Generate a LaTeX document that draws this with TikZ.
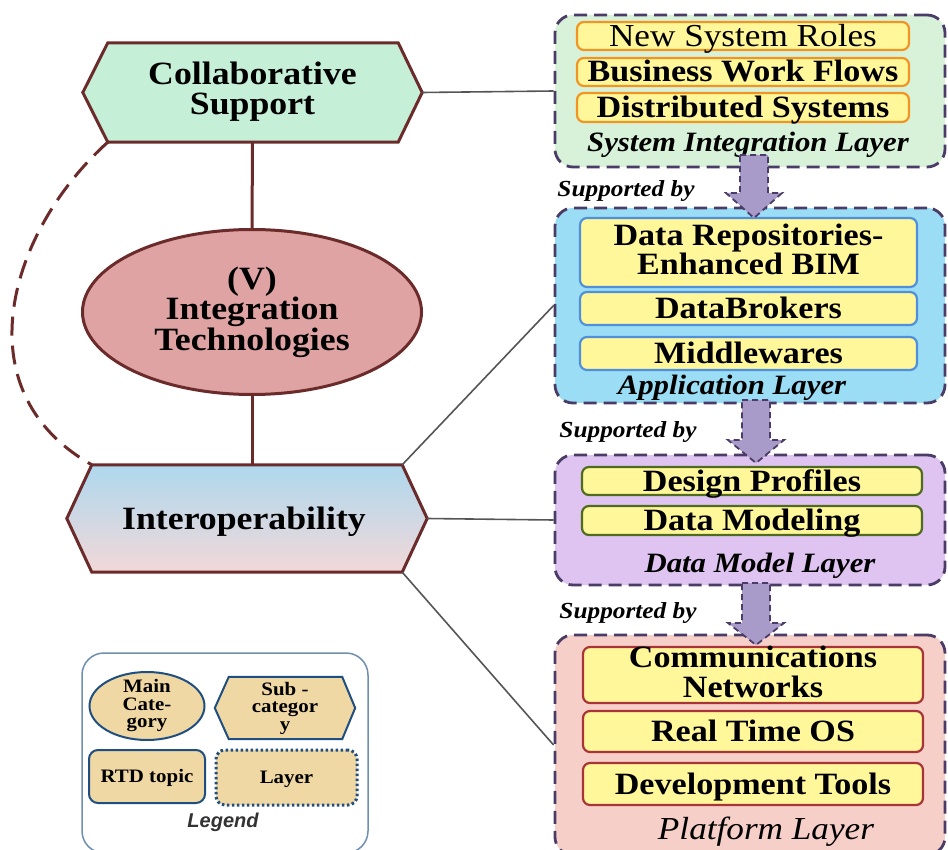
\documentclass[tikz,border=0pt]{standalone}
\usepackage{fontspec}
\setmainfont{Liberation Serif}[FakeStretch=1.1]
\newfontfamily\legfont{Liberation Sans}
\usetikzlibrary{shapes.geometric,calc}
\definecolor{maroon}{HTML}{6B2B2B}
\definecolor{collabfill}{HTML}{C6EFD8}
\definecolor{ellfill}{HTML}{E0A3A3}
\definecolor{intTop}{HTML}{AED8EE}
\definecolor{intMid}{HTML}{C6B4D6}
\definecolor{intBot}{HTML}{F2D8D8}
\definecolor{laycol}{HTML}{4A3C66}
\definecolor{Lonefill}{HTML}{D8F2D9}
\definecolor{Ltwofill}{HTML}{9ADDF5}
\definecolor{Lthreefill}{HTML}{DFC4F2}
\definecolor{Lfourfill}{HTML}{F5CFC8}
\definecolor{boxyellow}{HTML}{FFF79A}
\definecolor{Loneline}{HTML}{F29422}
\definecolor{Ltwoline}{HTML}{4F8FDB}
\definecolor{Lthreeline}{HTML}{4E6B1E}
\definecolor{Lfourline}{HTML}{A8343A}
\definecolor{arrowcol}{HTML}{A99BC9}
\definecolor{legfill}{HTML}{F0D8A5}
\definecolor{legline}{HTML}{1F4E80}
\definecolor{frameline}{HTML}{6F8FAE}
\definecolor{conncol}{HTML}{555555}
\newcommand\fbig{\fontsize{31}{29.5}\selectfont\bfseries}
\newcommand\fleft{\fontsize{32.5}{30.5}\selectfont\bfseries}
\newcommand\fbigreg{\fontsize{32}{30}\selectfont}
\newcommand\flay{\fontsize{28}{30}\selectfont\bfseries\itshape}
\newcommand\fplat{\fontsize{32}{30}\selectfont\itshape}
\newcommand\fsup{\fontsize{23}{25}\selectfont\bfseries\itshape}
\newcommand\fleg{\fontsize{19}{17.5}\selectfont\bfseries}
\begin{document}
\begin{tikzpicture}[x=1pt,y=-1pt,
  every node/.style={inner sep=0pt},
  hexshape/.style={draw=maroon, line width=3pt, line join=miter},
  layerbox/.style={draw=laycol, line width=2.8pt, dash pattern=on 13pt off 7pt, rounded corners=18pt, minimum width=390pt},
  ibox/.style={fill=boxyellow, line width=2.2pt, rounded corners=7pt},
  btext/.style={font=\fbig, text height=20pt, text depth=0pt},
  mtext/.style={font=\fbig, align=center},
  laytext/.style={font=\flay, text height=18pt, text depth=0pt},
  suptext/.style={font=\fsup, text height=15pt, text depth=0pt},
  bigarrow/.style={fill=arrowcol, draw=laycol, line width=1.8pt, dash pattern=on 6pt off 4pt},
  thinconn/.style={draw=conncol, line width=1.6pt},
  brownconn/.style={draw=maroon, line width=3pt},
  dashcurve/.style={draw=maroon, line width=3pt, dash pattern=on 19pt off 10pt},
  legitem/.style={fill=legfill, draw=legline, line width=2pt},
  legtext/.style={font=\fleg, align=center}
]
\useasboundingbox (0,0) rectangle (948,850);

% ---------------- Left side ----------------
\node[minimum width=339pt, minimum height=99pt] (collab) at (252.5,92.5) {};
\draw[hexshape, fill=collabfill] (collab.west) -- ($(collab.north west)+(25,0)$) -- ($(collab.north east)+(-24,0)$) -- (collab.east) -- ($(collab.south east)+(-24,0)$) -- ($(collab.south west)+(25,0)$) -- cycle;
\node[font=\fleft, align=center, yshift=1pt] (collabtext) at (collab) {Collaborative\\Support};

\node[ellipse, draw=maroon, line width=3pt, fill=ellfill, minimum width=339pt, minimum height=165pt, font=\fleft, align=center] (integ) at (252,312) {(V)\\Integration\\Technologies};

\node[minimum width=360pt, minimum height=107pt] (interop) at (247,518.5) {};
\draw[hexshape, top color=intTop, middle color=intMid, bottom color=intBot] (interop.west) -- ($(interop.north west)+(25,0)$) -- ($(interop.north east)+(-25,0)$) -- (interop.east) -- ($(interop.south east)+(-25,0)$) -- ($(interop.south west)+(25,0)$) -- cycle;
\node[font=\fleft, text height=21pt, text depth=0pt] (interoptext) at (244,519) {Interoperability};

\coordinate (csw) at ($(collab.south west)+(25,0)$);
\coordinate (inw) at ($(interop.north west)+(25,0)$);
\coordinate (ine) at ($(interop.north east)+(-25,0)$);
\coordinate (ise) at ($(interop.south east)+(-25,0)$);

\draw[brownconn] (collab.south) -- (integ.north);
\draw[brownconn] (integ.south) -- (integ.south |- interop.north);
\draw[dashcurve] (csw) .. controls (10,230) and (-40,390) .. (inw);

% ---------------- Layers ----------------
\node[layerbox, fill=Lonefill, minimum height=152pt] (L1) at (750,91) {};
\node[ibox, draw=Loneline, minimum width=332pt, minimum height=28pt] (b11) at (743,36) {};
\node[font=\fbigreg, text height=21pt, text depth=0pt] (t11) at (b11) {New System Roles};
\node[ibox, draw=Loneline, minimum width=332pt, minimum height=28pt] (b12) at (743,72) {};
\node[btext] (t12) at (b12) {Business Work Flows};
\node[ibox, draw=Loneline, minimum width=332pt, minimum height=29pt] (b13) at (743,107.5) {};
\node[btext] (t13) at (b13) {Distributed Systems};
\node[laytext] (l1text) at (748,143) {System Integration Layer};

\node[layerbox, fill=Ltwofill, minimum height=195pt] (L2) at (750,305.5) {};
\node[ibox, draw=Ltwoline, minimum width=337pt, minimum height=69pt] (b21) at (748.5,252.5) {};
\node[mtext, yshift=3pt] (t21) at (b21) {Data Repositories-\\Enhanced BIM};
\node[ibox, draw=Ltwoline, minimum width=337pt, minimum height=33pt] (b22) at (748.5,308.5) {};
\node[btext] (t22) at (b22) {DataBrokers};
\node[ibox, draw=Ltwoline, minimum width=337pt, minimum height=33pt] (b23) at (748.5,353.5) {};
\node[btext] (t23) at (b23) {Middlewares};
\node[laytext] (l2text) at (732,385) {Application Layer};

\draw[bigarrow] (740,155) -- (768,155) -- (768,193) -- (782,193) -- (754,218) -- (726,193) -- (740,193) -- cycle;
\node[suptext] (sup1) at (626,189) {Supported by};

\node[layerbox, fill=Lthreefill, minimum height=130pt] (L3) at (750,520) {};
\node[ibox, draw=Lthreeline, minimum width=340pt, minimum height=28pt] (b31) at (752,481) {};
\node[btext] (t31) at (b31) {Design Profiles};
\node[ibox, draw=Lthreeline, minimum width=340pt, minimum height=29pt] (b32) at (752,520.5) {};
\node[btext] (t32) at (b32) {Data Modeling};
\node[laytext] (l3text) at (760,563) {Data Model Layer};

\draw[bigarrow] (742,400) -- (770,400) -- (770,440) -- (784,440) -- (756,463) -- (728,440) -- (742,440) -- cycle;
\node[suptext] (sup2) at (628,430) {Supported by};

\node[layerbox, fill=Lfourfill, minimum height=220pt] (L4) at (750,745) {};
\node[ibox, draw=Lfourline, minimum width=340pt, minimum height=56pt] (b41) at (753,675) {};
\node[mtext, yshift=3pt] (t41) at (b41) {Communications\\Networks};
\node[ibox, draw=Lfourline, minimum width=340pt, minimum height=41pt] (b42) at (753,731.5) {};
\node[btext] (t42) at (b42) {Real Time OS};
\node[ibox, draw=Lfourline, minimum width=340pt, minimum height=42pt] (b43) at (753,784) {};
\node[btext] (t43) at (b43) {Development Tools};
\node[font=\fplat, text height=20pt, text depth=0pt] (l4text) at (766,829) {Platform Layer};

\draw[bigarrow] (742,583) -- (770,583) -- (770,623) -- (784,623) -- (756,645) -- (728,623) -- (742,623) -- cycle;
\node[suptext] (sup3) at (628,611) {Supported by};

% ---------------- thin connectors ----------------
\draw[thinconn] (collab.east) -- (L1.west);
\draw[thinconn] (ine) -- (L2.west);
\draw[thinconn] (interop.east) -- (L3.west);
\draw[thinconn] (ise) -- (L4.west);

% ---------------- Legend ----------------
\node[draw=frameline, line width=1.5pt, rounded corners=22pt, fill=white, minimum width=286pt, minimum height=200pt] (legend) at (225,753) {};
\node[ellipse, legitem, minimum width=115pt, minimum height=68pt] (legmain) at (147,706) {};
\node[legtext] (legmaintext) at (legmain) {Main\\Cate-\\gory};
\node[minimum width=140pt, minimum height=62pt] (legsub) at (285,708) {};
\draw[legitem] (legsub.west) -- ($(legsub.north west)+(14,0)$) -- ($(legsub.north east)+(-13,0)$) -- (legsub.east) -- ($(legsub.south east)+(-13,0)$) -- ($(legsub.south west)+(14,0)$) -- cycle;
\node[legtext] (legsubtext) at (legsub) {Sub -\\categor\\y};
\node[legitem, rounded corners=9pt, minimum width=116pt, minimum height=53pt] (legrtd) at (147,776.5) {};
\node[legtext, text height=12.5pt, text depth=0pt] (legrtdtext) at (legrtd) {RTD topic};
\node[fill=legfill, draw=legline, line width=3pt, dash pattern=on 2.5pt off 2.5pt, rounded corners=9pt, minimum width=141pt, minimum height=55pt] (leglayer) at (286.5,777.5) {};
\node[legtext, text height=12.5pt, text depth=0pt] (leglayertext) at (leglayer) {Layer};
\node[font={\legfont\bfseries\itshape\fontsize{20}{22}\selectfont}, text=black!80] (legtitle) at (223,822) {Legend};
\end{tikzpicture}
\end{document}
